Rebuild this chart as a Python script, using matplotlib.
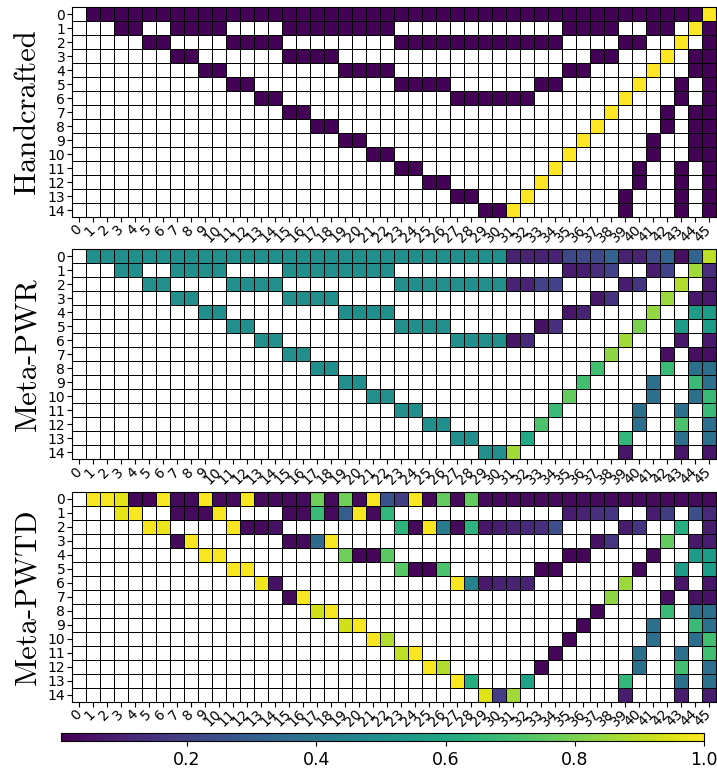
import numpy as np
import matplotlib
matplotlib.use('Agg')
import matplotlib.pyplot as plt

# 每行的取值区间: (起始列, 结束列, 数值)
n_rows = 15
n_cols = 46

hand_rows = [
    [(1, 44, 0.01), (45, 45, 1.0)],
    [(3, 4, 0.01), (7, 10, 0.01), (15, 22, 0.01), (35, 38, 0.01), (41, 42, 0.01), (44, 44, 1.0), (45, 45, 0.01)],
    [(5, 6, 0.01), (11, 14, 0.01), (23, 34, 0.01), (39, 40, 0.01), (43, 43, 1.0), (45, 45, 0.01)],
    [(7, 8, 0.01), (15, 18, 0.01), (37, 38, 0.01), (42, 42, 1.0), (44, 45, 0.01)],
    [(9, 10, 0.01), (19, 22, 0.01), (35, 36, 0.01), (41, 41, 1.0), (44, 45, 0.01)],
    [(11, 12, 0.01), (23, 26, 0.01), (33, 34, 0.01), (40, 40, 1.0), (43, 43, 0.01), (45, 45, 0.01)],
    [(13, 14, 0.01), (27, 32, 0.01), (39, 39, 1.0), (43, 43, 0.01), (45, 45, 0.01)],
    [(15, 16, 0.01), (38, 38, 1.0), (42, 42, 0.01), (44, 45, 0.01)],
    [(17, 18, 0.01), (37, 37, 1.0), (42, 42, 0.01), (44, 45, 0.01)],
    [(19, 20, 0.01), (36, 36, 1.0), (41, 41, 0.01), (44, 45, 0.01)],
    [(21, 22, 0.01), (35, 35, 1.0), (41, 41, 0.01), (44, 45, 0.01)],
    [(23, 24, 0.01), (34, 34, 1.0), (40, 40, 0.01), (43, 43, 0.01), (45, 45, 0.01)],
    [(25, 26, 0.01), (33, 33, 1.0), (40, 40, 0.01), (43, 43, 0.01), (45, 45, 0.01)],
    [(27, 28, 0.01), (32, 32, 1.0), (39, 39, 0.01), (43, 43, 0.01), (45, 45, 0.01)],
    [(29, 30, 0.01), (31, 31, 1.0), (39, 39, 0.01), (43, 43, 0.01), (45, 45, 0.01)],
]

pwr_rows = [
    [(1, 30, 0.5), (31, 34, 0.1), (35, 37, 0.22), (38, 38, 0.32), (39, 40, 0.1), (41, 41, 0.22),
     (42, 42, 0.32), (43, 43, 0.04), (44, 44, 0.32), (45, 45, 0.9)],
    [(3, 4, 0.5), (7, 10, 0.5), (15, 22, 0.5), (35, 36, 0.08), (37, 37, 0.13), (38, 38, 0.2),
     (41, 41, 0.08), (42, 42, 0.2), (44, 44, 0.86), (45, 45, 0.13)],
    [(5, 6, 0.5), (11, 14, 0.5), (23, 30, 0.5), (31, 32, 0.1), (33, 34, 0.2), (39, 39, 0.08),
     (40, 40, 0.16), (43, 43, 0.88), (45, 45, 0.07)],
    [(7, 8, 0.5), (15, 18, 0.5), (37, 37, 0.06), (38, 38, 0.15), (42, 42, 0.85), (44, 45, 0.07)],
    [(9, 10, 0.5), (19, 22, 0.5), (35, 35, 0.06), (36, 36, 0.1), (41, 41, 0.84), (44, 45, 0.55)],
    [(11, 12, 0.5), (23, 26, 0.5), (33, 33, 0.05), (34, 34, 0.14), (40, 40, 0.8), (43, 43, 0.55), (45, 45, 0.55)],
    [(13, 14, 0.5), (27, 30, 0.5), (31, 31, 0.06), (32, 32, 0.12), (39, 39, 0.86), (43, 43, 0.07), (45, 45, 0.07)],
    [(15, 16, 0.5), (38, 38, 0.83), (42, 42, 0.04), (44, 45, 0.04)],
    [(17, 18, 0.5), (37, 37, 0.7), (42, 42, 0.68), (44, 45, 0.37)],
    [(19, 20, 0.5), (36, 36, 0.7), (41, 41, 0.37), (44, 44, 0.68), (45, 45, 0.37)],
    [(21, 22, 0.5), (35, 35, 0.76), (41, 41, 0.37), (44, 44, 0.37), (45, 45, 0.68)],
    [(23, 24, 0.5), (34, 34, 0.68), (40, 40, 0.37), (43, 43, 0.37), (45, 45, 0.68)],
    [(25, 26, 0.5), (33, 33, 0.72), (40, 40, 0.37), (43, 43, 0.72), (45, 45, 0.36)],
    [(27, 28, 0.5), (32, 32, 0.6), (39, 39, 0.66), (43, 43, 0.37), (45, 45, 0.37)],
    [(29, 30, 0.5), (31, 31, 0.86), (39, 39, 0.06), (43, 43, 0.06), (45, 45, 0.06)],
]

pwtd_rows = [
    [(1, 2, 0.99), (3, 3, 0.96), (4, 5, 0.02), (6, 6, 0.99), (7, 8, 0.03), (9, 9, 0.99), (10, 11, 0.03),
     (12, 12, 0.99), (13, 16, 0.03), (17, 17, 0.78), (18, 18, 0.03), (19, 19, 0.78), (20, 20, 0.03),
     (21, 21, 0.99), (22, 22, 0.25), (23, 23, 0.18), (24, 24, 0.99), (25, 25, 0.03), (26, 26, 0.76),
     (27, 27, 0.03), (28, 28, 0.76), (29, 45, 0.03)],
    [(3, 3, 0.96), (4, 4, 0.99), (7, 9, 0.03), (10, 10, 0.99), (15, 16, 0.03), (17, 17, 0.68), (18, 18, 0.03),
     (19, 19, 0.3), (20, 20, 0.99), (21, 21, 0.03), (22, 22, 0.66), (35, 35, 0.08), (36, 36, 0.1),
     (37, 37, 0.14), (38, 38, 0.16), (41, 41, 0.08), (42, 42, 0.18), (44, 44, 0.24), (45, 45, 0.12)],
    [(5, 5, 0.99), (6, 6, 0.97), (11, 11, 0.99), (12, 13, 0.03), (14, 14, 0.05), (23, 23, 0.65),
     (24, 24, 0.03), (25, 25, 0.99), (26, 26, 0.42), (27, 27, 0.03), (28, 28, 0.65), (29, 29, 0.06),
     (30, 30, 0.08), (31, 31, 0.1), (32, 32, 0.12), (33, 33, 0.14), (34, 34, 0.24), (39, 39, 0.08),
     (40, 40, 0.16), (43, 43, 0.62), (45, 45, 0.08)],
    [(7, 7, 0.03), (8, 8, 0.99), (15, 16, 0.03), (17, 17, 0.34), (18, 18, 0.99), (37, 37, 0.05),
     (38, 38, 0.16), (42, 42, 0.76), (44, 44, 0.07), (45, 45, 0.08)],
    [(9, 10, 0.99), (19, 19, 0.78), (20, 21, 0.02), (22, 22, 0.75), (35, 36, 0.02), (41, 41, 0.03), (44, 45, 0.55)],
    [(11, 12, 0.99), (23, 23, 0.74), (24, 25, 0.02), (26, 26, 0.72), (33, 34, 0.02), (40, 40, 0.03),
     (43, 43, 0.55), (45, 45, 0.55)],
    [(13, 13, 0.98), (14, 14, 0.05), (27, 27, 0.99), (28, 28, 0.45), (29, 29, 0.07), (30, 32, 0.1),
     (39, 39, 0.85), (43, 43, 0.06), (45, 45, 0.06)],
    [(15, 15, 0.03), (16, 16, 0.99), (38, 38, 0.83), (42, 42, 0.04), (44, 45, 0.05)],
    [(17, 17, 0.93), (18, 18, 0.99), (37, 37, 0.02), (42, 42, 0.68), (44, 45, 0.37)],
    [(19, 19, 0.93), (20, 20, 0.99), (36, 36, 0.02), (41, 41, 0.37), (44, 44, 0.68), (45, 45, 0.37)],
    [(21, 21, 0.99), (22, 22, 0.88), (35, 35, 0.02), (41, 41, 0.37), (44, 44, 0.37), (45, 45, 0.7)],
    [(23, 23, 0.9), (24, 24, 0.99), (34, 34, 0.02), (40, 40, 0.37), (43, 43, 0.37), (45, 45, 0.7)],
    [(25, 25, 0.99), (26, 26, 0.88), (33, 33, 0.02), (40, 40, 0.37), (43, 43, 0.7), (45, 45, 0.36)],
    [(27, 27, 0.99), (28, 28, 0.62), (32, 32, 0.58), (39, 39, 0.66), (43, 43, 0.37), (45, 45, 0.37)],
    [(29, 29, 0.95), (30, 30, 0.18), (31, 31, 0.86), (39, 39, 0.08), (43, 43, 0.08), (45, 45, 0.08)],
]

names = ['Handcrafted', 'Meta-PWR', 'Meta-PWTD']
all_rows = [hand_rows, pwr_rows, pwtd_rows]
cbar_ticks = [0.2, 0.4, 0.6, 0.8, 1.0]


def build(rows):
    m = np.full((n_rows, n_cols), np.nan)
    for r, runs in enumerate(rows):
        for c0, c1, v in runs:
            m[r, c0:c1 + 1] = v
    return np.ma.masked_invalid(m)


cmap = plt.get_cmap('viridis').copy()
cmap.set_bad('white')

W, H = 717, 771
fig = plt.figure(figsize=(W / 100, H / 100), dpi=100)

# 各热力图位置 (像素)
tops = [7, 249.3, 491.7]
left_px, width_px, height_px = 72.3, 644, 210

for name, rows, top in zip(names, all_rows, tops):
    ax = fig.add_axes([left_px / W, 1 - (top + height_px) / H, width_px / W, height_px / H])
    data = build(rows)
    mesh = ax.pcolormesh(data, cmap=cmap, vmin=0.005, vmax=1.0,
                         edgecolors='black', linewidth=0.7)
    ax.set_xlim(0, n_cols)
    ax.set_ylim(n_rows, 0)
    ax.set_xticks(np.arange(n_cols) + 0.5)
    ax.set_xticklabels([str(i) for i in range(n_cols)], rotation=45, ha='right', va='center',
                       rotation_mode='anchor', fontsize=10)
    ax.set_yticks(np.arange(n_rows) + 0.5)
    ax.set_yticklabels([str(i) for i in range(n_rows)], rotation=0, fontsize=10)
    ax.tick_params(length=3.5, pad=1.5)
    ax.tick_params(axis='x', pad=4)
    ax.set_ylabel(name, family='cmr10', fontsize=22)
    ax.yaxis.set_label_coords(-0.048, 0.5)

cax = fig.add_axes([61 / W, 1 - 741 / H, 643 / W, 8 / H])
cb = fig.colorbar(mesh, cax=cax, orientation='horizontal', ticks=cbar_ticks)
cb.ax.tick_params(labelsize=12.5)

fig.savefig('out.png', dpi=100)
